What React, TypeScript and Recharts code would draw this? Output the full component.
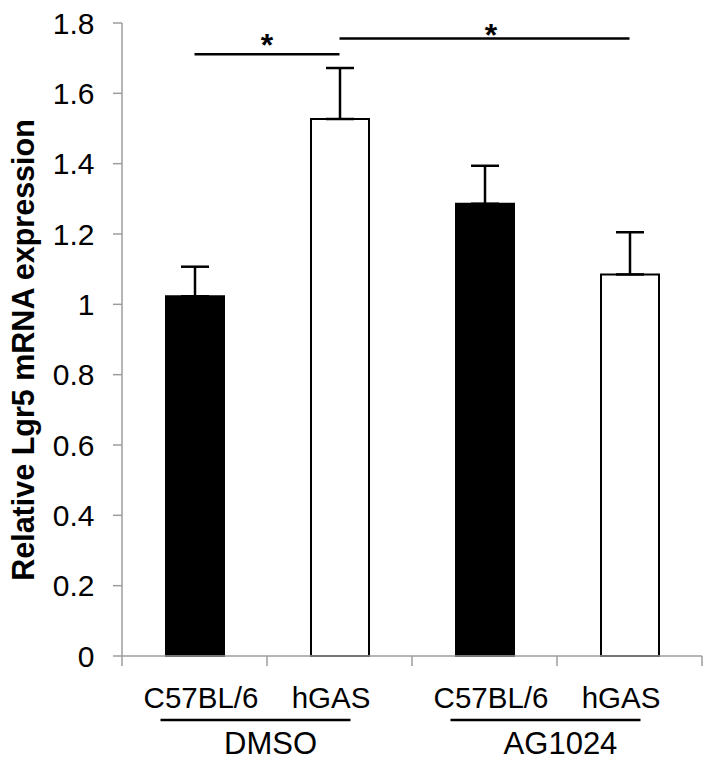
import React from 'react';
import { BarChart, Bar, XAxis, YAxis, ErrorBar, Cell, ReferenceLine } from 'recharts';

const ids = ['DMSO-C57', 'DMSO-hGAS', 'AG1024-C57', 'AG1024-hGAS'];
const strains = ['C57BL/6', 'hGAS', 'C57BL/6', 'hGAS'];
const treatments = ['DMSO', 'DMSO', 'AG1024', 'AG1024'];
const values = [1.023, 1.527, 1.286, 1.085];
const errors = [0.084, 0.145, 0.108, 0.12];
const yTicks = [0, 0.2, 0.4, 0.6, 0.8, 1, 1.2, 1.4, 1.6, 1.8];
const yLabel = 'Relative Lgr5 mRNA expression';
// significance brackets between categories, at a given level
const brackets = [
  { from: 'DMSO-C57', to: 'DMSO-hGAS', level: 1.711 },
  { from: 'DMSO-hGAS', to: 'AG1024-hGAS', level: 1.756 },
];

const data = ids.map((id, i) => ({
  id,
  strain: strains[i],
  treatment: treatments[i],
  value: values[i],
  err: [0, errors[i]],
}));

const W = 714;
const H = 766;
const MARGIN = { top: 23, right: 12, bottom: 0, left: 0 };
const Y_W = 122;
const X_H = 110;
const BAND = (W - Y_W - MARGIN.right - MARGIN.left) / ids.length;
const TICK_MARGIN = 31;

const FONT = '"Liberation Sans", Arial, Helvetica, sans-serif';
const AXIS = '#9c9c9c';

const XTick = (props: any) => {
  const { x, y, index } = props;
  const i = index;
  const strain = strains[i];
  const axisY = y - TICK_MARGIN;
  const dx = strain === 'C57BL/6' ? 6.5 : -8.5;
  const firstOfGroup = i === 0 || treatments[i] !== treatments[i - 1];
  const last = i === ids.length - 1;
  return (
    <g>
      <line x1={x - BAND / 2} x2={x - BAND / 2} y1={axisY} y2={axisY + 10} stroke={AXIS} strokeWidth={1.5} />
      {last && (
        <line x1={x + BAND / 2} x2={x + BAND / 2} y1={axisY} y2={axisY + 10} stroke={AXIS} strokeWidth={1.5} />
      )}
      <text x={x + dx} y={y} dy="0.71em" textAnchor="middle" fontSize={29.5} fill="#000" fontFamily={FONT}>
        {strain}
      </text>
      {firstOfGroup && (
        <g>
          <line x1={x - 34} x2={x + 156} y1={y + 33} y2={y + 33} stroke="#000" strokeWidth={2.5} />
          <text x={x + 76} y={y + 45} dy="0.71em" textAnchor="middle" fontSize={31} fill="#000" fontFamily={FONT}>
            {treatments[i]}
          </text>
        </g>
      )}
    </g>
  );
};

const YLabel = () => (
  <text
    x={34}
    y={350}
    transform="rotate(-90, 34, 350)"
    textAnchor="middle"
    fontSize={30.5}
    fontWeight="bold"
    fill="#000"
    fontFamily={FONT}
  >
    {yLabel}
  </text>
);

const StarLabel = (props: any) => {
  const vb = props.viewBox || {};
  const cx = vb.x + (vb.width || 0) / 2 + (props.shift || 0);
  const cy = vb.y - (props.lift || 0);
  return (
    <text x={cx} y={cy + 18} textAnchor="middle" fontSize={32} fontWeight="bold" fill="#000" fontFamily={FONT}>
      *
    </text>
  );
};

export default function App() {
  return (
    <div style={{ width: W, height: H, background: '#fff' }}>
      <style>{'body{margin:0;}'}</style>
      <BarChart width={W} height={H} data={data} margin={MARGIN} barSize={58}>
        <XAxis
          dataKey="id"
          height={X_H}
          axisLine={{ stroke: AXIS, strokeWidth: 1.5 }}
          tickLine={false}
          tickSize={0}
          tickMargin={TICK_MARGIN}
          interval={0}
          tick={<XTick />}
        />
        <YAxis
          domain={[0, 1.8]}
          ticks={yTicks}
          width={Y_W}
          tickSize={9}
          tickMargin={18.5}
          interval={0}
          axisLine={{ stroke: AXIS, strokeWidth: 1.5 }}
          tickLine={{ stroke: AXIS, strokeWidth: 1.5 }}
          tick={{ fontSize: 30, fill: '#000', fontFamily: FONT }}
          label={<YLabel />}
        />
        <Bar dataKey="value" isAnimationActive={false} stroke="#000" strokeWidth={2}>
          {data.map((d) => (
            <Cell key={d.id} fill={d.strain === 'C57BL/6' ? '#000' : '#fff'} />
          ))}
          <ErrorBar dataKey="err" width={14} stroke="#000" strokeWidth={2.5} isAnimationActive={false} />
        </Bar>
        {brackets.map((b, i) => (
          <ReferenceLine
            key={`br${i}`}
            segment={[{ x: b.from, y: b.level }, { x: b.to, y: b.level }]}
            stroke="#000"
            strokeWidth={2.5}
            ifOverflow="visible"
            label={<StarLabel shift={i === 0 ? 0 : 6.5} lift={i === 0 ? 16 : 10} />}
          />
        ))}
      </BarChart>
    </div>
  );
}
